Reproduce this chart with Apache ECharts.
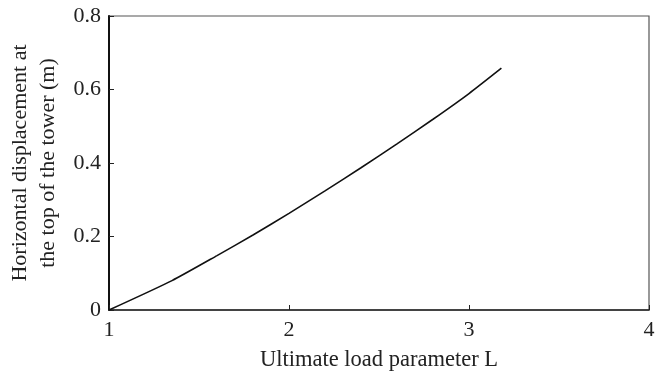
<!DOCTYPE html>
<html>
<head>
<meta charset="utf-8">
<script src="https://cdn.jsdelivr.net/npm/echarts@6/dist/echarts.min.js"></script>
<style>
  html, body { margin: 0; padding: 0; background: #fff; }
  #chart { width: 666px; height: 376px; }
</style>
</head>
<body>
<div id="chart"></div>
<script>
// load parameter L vs top displacement (m)
const loadParam = [1.0, 1.35, 1.6, 1.8, 2.0, 2.2, 2.4, 2.6, 2.8, 3.0, 3.18]
const displacement = [0.0, 0.08, 0.148, 0.204, 0.263, 0.324, 0.387, 0.452, 0.519, 0.589, 0.658]

const font = 'Liberation Serif'
const ink = '#222'

const chart = echarts.init(document.getElementById('chart'))

chart.setOption({
  animation: false,
  backgroundColor: '#fff',
  grid: {
    left: 109,
    right: 17,
    top: 16,
    bottom: 66,
    outerBoundsMode: 'none',
    containLabel: false,
    show: true,
    borderColor: '#555',
    borderWidth: 1.2
  },
  xAxis: {
    type: 'value',
    min: 1,
    max: 4,
    interval: 1,
    name: 'Ultimate load parameter L',
    nameLocation: 'middle',
    nameGap: 39,
    nameTextStyle: { fontFamily: font, fontSize: 22.5, color: ink },
    axisLine: { onZero: false, lineStyle: { color: ink, width: 1.5 } },
    axisTick: { inside: true, length: 5, lineStyle: { color: ink } },
    axisLabel: { fontFamily: font, fontSize: 22, color: ink, margin: 9 },
    splitLine: { show: false }
  },
  yAxis: {
    type: 'value',
    min: 0,
    max: 0.8,
    interval: 0.2,
    name: 'Horizontal displacement at\nthe top of the tower (m)',
    nameLocation: 'middle',
    nameGap: 43,
    nameRotate: 90,
    nameTextStyle: { fontFamily: font, fontSize: 22, color: ink, lineHeight: 28 },
    axisLine: { onZero: false, lineStyle: { color: '#111', width: 2 } },
    axisTick: { inside: true, length: 5, lineStyle: { color: ink } },
    axisLabel: {
      fontFamily: font, fontSize: 22, color: ink, margin: 8,
      formatter: v => (v === 0 ? '0' : v.toFixed(1))
    },
    splitLine: { show: false }
  },
  series: [
    {
      type: 'line',
      data: loadParam.map((x, i) => [x, displacement[i]]),
      smooth: 0.2,
      showSymbol: false,
      lineStyle: { color: '#111', width: 1.6 }
    }
  ]
})
</script>
</body>
</html>
